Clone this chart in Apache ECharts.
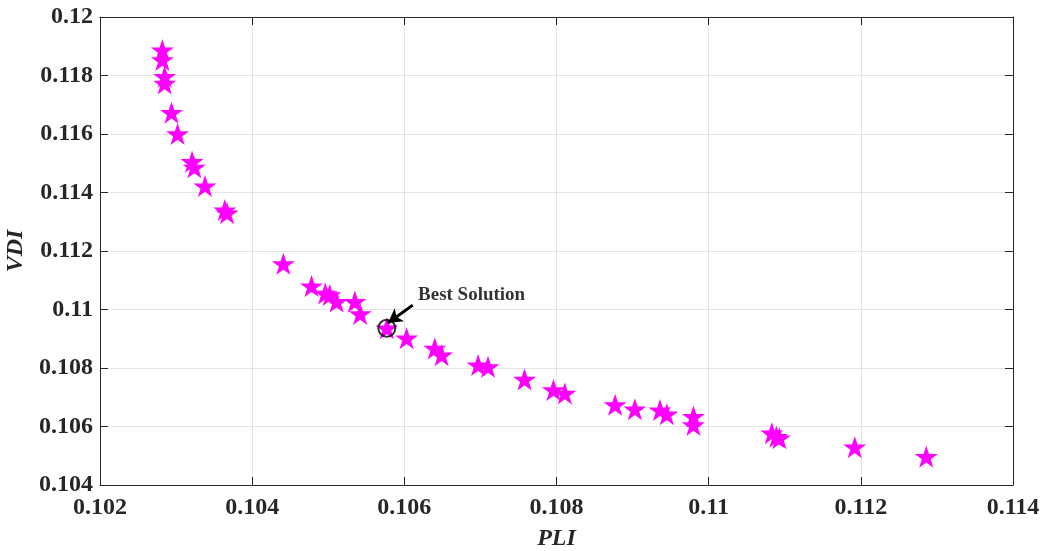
<!DOCTYPE html>
<html>
<head>
<meta charset="utf-8">
<script src="https://cdn.jsdelivr.net/npm/echarts@6/dist/echarts.min.js"></script>
<style>html,body{margin:0;padding:0;background:#fff;}#c{width:1045px;height:551px;}</style>
</head>
<body>
<div id="c"></div>
<script>
const pli = [0.10282,0.10282,0.10285,0.10285,0.10294,0.10302,0.10321,0.10324,0.10338,0.10364,0.10367,
  0.10441,0.10478,0.10496,0.10502,0.10511,0.10535,0.10542,0.10577,0.10603,0.10640,0.10649,0.10697,0.10710,
  0.10758,0.10796,0.10811,0.10877,0.10903,0.10936,0.10945,0.10980,0.10980,0.11083,0.11089,0.11093,0.11192,0.11286];
const vdi = [0.11887,0.11853,0.11796,0.11773,0.11673,0.11600,0.11505,0.11486,0.11422,0.11340,0.11329,
  0.11156,0.11080,0.11055,0.11050,0.11027,0.11027,0.10985,0.10936,0.10902,0.10867,0.10844,0.10810,0.10804,
  0.10761,0.10725,0.10713,0.10674,0.10659,0.10656,0.10642,0.10634,0.10605,0.10577,0.10565,0.10560,0.10529,0.10497];
const best = [0.10577, 0.10936];
const arrowTail = [0.10611, 0.11015];
const arrowHead = [0.105785, 0.10954];
const labelAnchor = [0.10618, 0.11050];
const bestLabel = 'Best Solution';
const xTicks = {min: 0.102, max: 0.114, interval: 0.002};
const yTicks = {min: 0.104, max: 0.12, interval: 0.002};

const star = 'path://M50,0 L61.8,35.1 L98.9,35.1 L68.8,57.3 L80.2,92.7 L50,70.8 L19.8,92.7 L31.2,57.3 L1.1,35.1 L38.2,35.1 Z';
const font = 'Liberation Serif';
const chart = echarts.init(document.getElementById('c'));
const axisCommon = {
  axisLine: {show: true, lineStyle: {color: '#262626', width: 1}},
  axisTick: {show: true, inside: true, length: 8, lineStyle: {color: '#262626'}},
};
chart.setOption({
  animation: false,
  grid: {left: 100, right: 32, top: 17, bottom: 66, containLabel: false, outerBoundsMode: 'none'},
  xAxis: [
    Object.assign({type: 'value', min: xTicks.min, max: xTicks.max, interval: xTicks.interval,
      name: 'PLI', nameLocation: 'middle', nameGap: 42,
      nameTextStyle: {fontFamily: font, fontStyle: 'italic', fontWeight: 'bold', fontSize: 24, color: '#262626'},
      axisLabel: {fontFamily: font, fontWeight: 'bold', fontSize: 24, color: '#262626', margin: 11,
        formatter: v => String(+v.toFixed(4))},
      splitLine: {show: true, lineStyle: {color: '#e3e3e3'}}}, axisCommon),
    Object.assign({type: 'value', position: 'top', min: xTicks.min, max: xTicks.max, interval: xTicks.interval,
      axisLabel: {show: false}, splitLine: {show: false}}, axisCommon)
  ],
  yAxis: [
    Object.assign({type: 'value', min: yTicks.min, max: yTicks.max, interval: yTicks.interval,
      name: 'VDI', nameLocation: 'middle', nameGap: 66,
      nameTextStyle: {fontFamily: font, fontStyle: 'italic', fontWeight: 'bold', fontSize: 24, color: '#262626'},
      axisLabel: {fontFamily: font, fontWeight: 'bold', fontSize: 24, color: '#262626', margin: 7,
        formatter: v => String(+v.toFixed(4))},
      splitLine: {show: true, lineStyle: {color: '#e3e3e3'}}}, axisCommon),
    Object.assign({type: 'value', position: 'right', min: yTicks.min, max: yTicks.max, interval: yTicks.interval,
      axisLabel: {show: false}, splitLine: {show: false}}, axisCommon)
  ],
  series: [
    {
      type: 'scatter', symbol: star, symbolSize: [23, 22],
      itemStyle: {color: '#ff00ff', opacity: 1},
      data: pli.map((x, i) => [x, vdi[i]]),
      markLine: {
        silent: true, animation: false,
        symbol: ['none', 'arrow'], symbolSize: [12, 14],
        lineStyle: {color: '#000', width: 3, type: 'solid'},
        label: {show: false},
        data: [[{coord: arrowTail}, {coord: arrowHead}]]
      }
    },
    {
      type: 'scatter', symbol: 'circle', symbolSize: 17,
      itemStyle: {color: 'rgba(0,0,0,0)', borderColor: '#000', borderWidth: 2},
      data: [best], z: 5
    },
    {
      type: 'scatter', symbolSize: 0,
      data: [labelAnchor],
      label: {show: true, position: 'right', distance: 0, formatter: bestLabel,
        fontFamily: font, fontWeight: 'bold', fontSize: 19, color: '#000'},
      z: 6
    }
  ]
});
</script>
</body>
</html>
